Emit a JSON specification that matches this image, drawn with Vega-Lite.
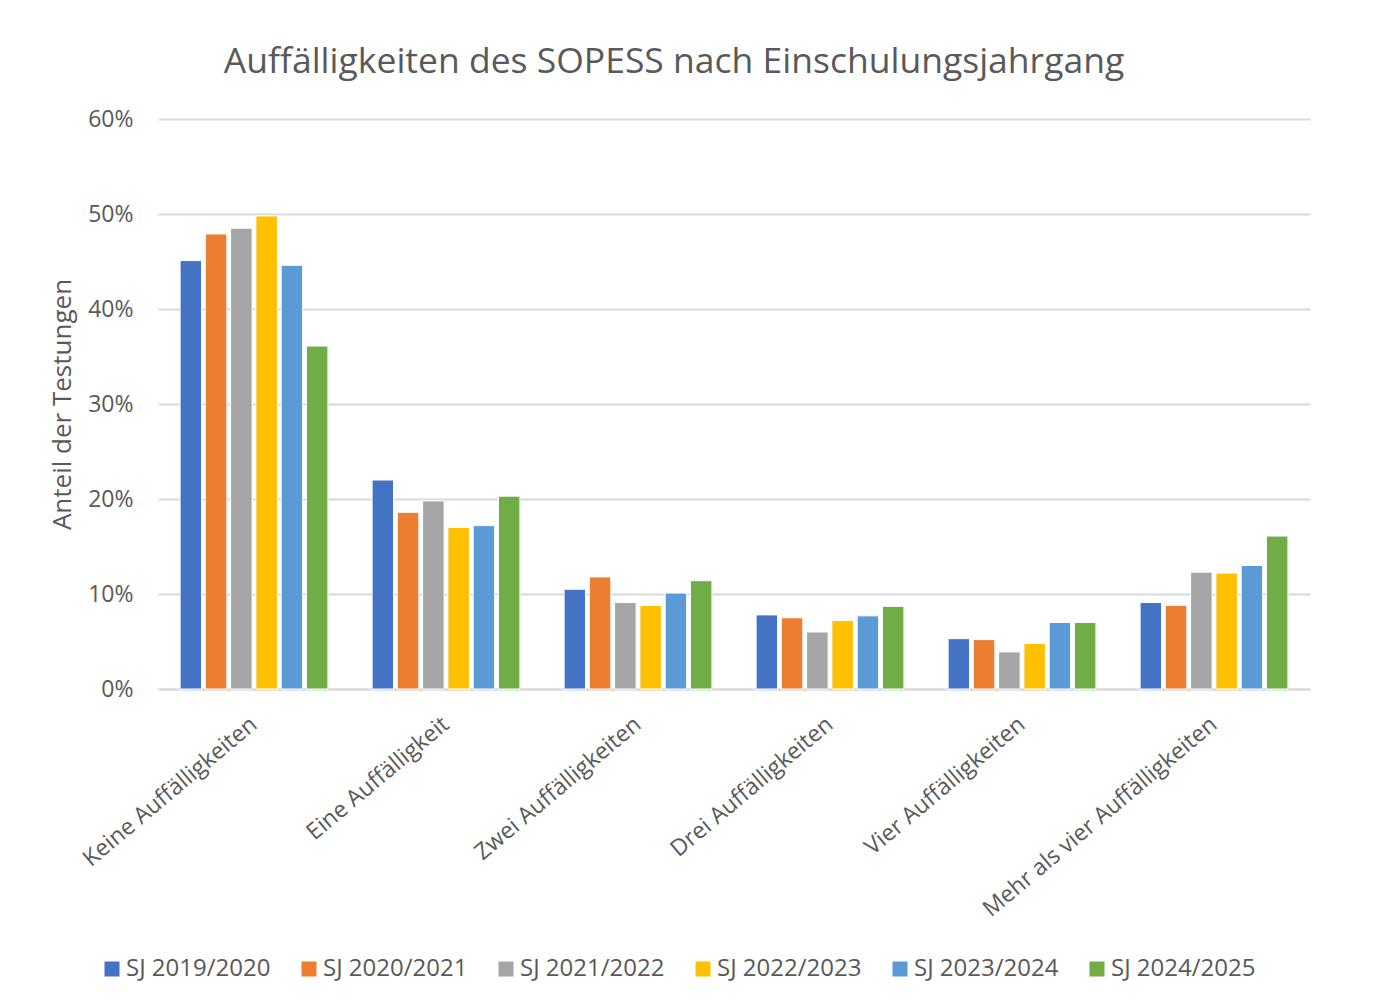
{
  "$schema": "https://vega.github.io/schema/vega-lite/v6.json",
  "width": 1152,
  "height": 570,
  "autosize": {"type": "none"},
  "padding": {"left": 158, "top": 119, "right": 63, "bottom": 318},
  "background": "white",
  "title": {
    "text": "Auffälligkeiten des SOPESS nach Einschulungsjahrgang",
    "anchor": "middle",
    "dx": -60,
    "offset": 28,
    "fontSize": 35.5,
    "font": "Open Sans",
    "fontWeight": "normal",
    "color": "#595959"
  },
  "data": {
    "values": [
      {"kat": "Keine Auffälligkeiten", "sj": "SJ 2019/2020", "v": 0.451},
      {"kat": "Keine Auffälligkeiten", "sj": "SJ 2020/2021", "v": 0.479},
      {"kat": "Keine Auffälligkeiten", "sj": "SJ 2021/2022", "v": 0.485},
      {"kat": "Keine Auffälligkeiten", "sj": "SJ 2022/2023", "v": 0.498},
      {"kat": "Keine Auffälligkeiten", "sj": "SJ 2023/2024", "v": 0.446},
      {"kat": "Keine Auffälligkeiten", "sj": "SJ 2024/2025", "v": 0.361},
      {"kat": "Eine Auffälligkeit", "sj": "SJ 2019/2020", "v": 0.220},
      {"kat": "Eine Auffälligkeit", "sj": "SJ 2020/2021", "v": 0.186},
      {"kat": "Eine Auffälligkeit", "sj": "SJ 2021/2022", "v": 0.198},
      {"kat": "Eine Auffälligkeit", "sj": "SJ 2022/2023", "v": 0.170},
      {"kat": "Eine Auffälligkeit", "sj": "SJ 2023/2024", "v": 0.172},
      {"kat": "Eine Auffälligkeit", "sj": "SJ 2024/2025", "v": 0.203},
      {"kat": "Zwei Auffälligkeiten", "sj": "SJ 2019/2020", "v": 0.105},
      {"kat": "Zwei Auffälligkeiten", "sj": "SJ 2020/2021", "v": 0.118},
      {"kat": "Zwei Auffälligkeiten", "sj": "SJ 2021/2022", "v": 0.091},
      {"kat": "Zwei Auffälligkeiten", "sj": "SJ 2022/2023", "v": 0.088},
      {"kat": "Zwei Auffälligkeiten", "sj": "SJ 2023/2024", "v": 0.101},
      {"kat": "Zwei Auffälligkeiten", "sj": "SJ 2024/2025", "v": 0.114},
      {"kat": "Drei Auffälligkeiten", "sj": "SJ 2019/2020", "v": 0.078},
      {"kat": "Drei Auffälligkeiten", "sj": "SJ 2020/2021", "v": 0.075},
      {"kat": "Drei Auffälligkeiten", "sj": "SJ 2021/2022", "v": 0.060},
      {"kat": "Drei Auffälligkeiten", "sj": "SJ 2022/2023", "v": 0.072},
      {"kat": "Drei Auffälligkeiten", "sj": "SJ 2023/2024", "v": 0.077},
      {"kat": "Drei Auffälligkeiten", "sj": "SJ 2024/2025", "v": 0.087},
      {"kat": "Vier Auffälligkeiten", "sj": "SJ 2019/2020", "v": 0.053},
      {"kat": "Vier Auffälligkeiten", "sj": "SJ 2020/2021", "v": 0.052},
      {"kat": "Vier Auffälligkeiten", "sj": "SJ 2021/2022", "v": 0.039},
      {"kat": "Vier Auffälligkeiten", "sj": "SJ 2022/2023", "v": 0.048},
      {"kat": "Vier Auffälligkeiten", "sj": "SJ 2023/2024", "v": 0.070},
      {"kat": "Vier Auffälligkeiten", "sj": "SJ 2024/2025", "v": 0.070},
      {"kat": "Mehr als vier Auffälligkeiten", "sj": "SJ 2019/2020", "v": 0.091},
      {"kat": "Mehr als vier Auffälligkeiten", "sj": "SJ 2020/2021", "v": 0.088},
      {"kat": "Mehr als vier Auffälligkeiten", "sj": "SJ 2021/2022", "v": 0.123},
      {"kat": "Mehr als vier Auffälligkeiten", "sj": "SJ 2022/2023", "v": 0.122},
      {"kat": "Mehr als vier Auffälligkeiten", "sj": "SJ 2023/2024", "v": 0.130},
      {"kat": "Mehr als vier Auffälligkeiten", "sj": "SJ 2024/2025", "v": 0.161}
    ]
  },
  "mark": {"type": "bar", "stroke": "white", "strokeWidth": 1},
  "encoding": {
    "x": {
      "field": "kat",
      "type": "nominal",
      "sort": null,
      "scale": {"paddingInner": 0.23, "paddingOuter": 0.115},
      "axis": {
        "title": null,
        "labelAngle": -40,
        "labelAlign": "right",
        "labelBaseline": "middle",
        "labelPadding": 32,
        "labelFontSize": 23,
        "labelFont": "Open Sans",
        "labelColor": "#595959",
        "labelLimit": 400,
        "ticks": false,
        "domain": true,
        "domainColor": "#D9D9D9",
        "domainWidth": 2
      }
    },
    "xOffset": {"field": "sj", "type": "nominal", "sort": null, "scale": {"paddingInner": 0.15}},
    "y": {
      "field": "v",
      "type": "quantitative",
      "scale": {"domain": [0, 0.6]},
      "axis": {
        "title": "Anteil der Testungen",
        "titleFontSize": 26,
        "titleFont": "Open Sans",
        "titleFontWeight": "normal",
        "titleColor": "#595959",
        "titlePadding": 12,
        "format": ".0%",
        "values": [0, 0.1, 0.2, 0.3, 0.4, 0.5, 0.6],
        "labelFontSize": 23,
        "labelFont": "Open Sans",
        "labelColor": "#595959",
        "labelPadding": 25,
        "ticks": false,
        "domain": false,
        "gridColor": "#D9D9D9",
        "gridWidth": 2
      }
    },
    "color": {
      "field": "sj",
      "type": "nominal",
      "sort": null,
      "scale": {
        "domain": ["SJ 2019/2020", "SJ 2020/2021", "SJ 2021/2022", "SJ 2022/2023", "SJ 2023/2024", "SJ 2024/2025"],
        "range": ["#4472C4", "#ED7D31", "#A5A5A5", "#FFC000", "#5B9BD5", "#70AD47"]
      },
      "legend": {
        "title": null,
        "orient": "none",
        "direction": "horizontal",
        "columns": 6,
        "legendX": -58,
        "legendY": 838,
        "symbolType": "square",
        "symbolSize": 225,
        "symbolStrokeWidth": 0,
        "labelFontSize": 24,
        "labelFont": "Open Sans",
        "labelColor": "#595959",
        "labelOffset": 2,
        "columnPadding": 26,
        "labelLimit": 300
      }
    }
  },
  "config": {"view": {"stroke": null}}
}
